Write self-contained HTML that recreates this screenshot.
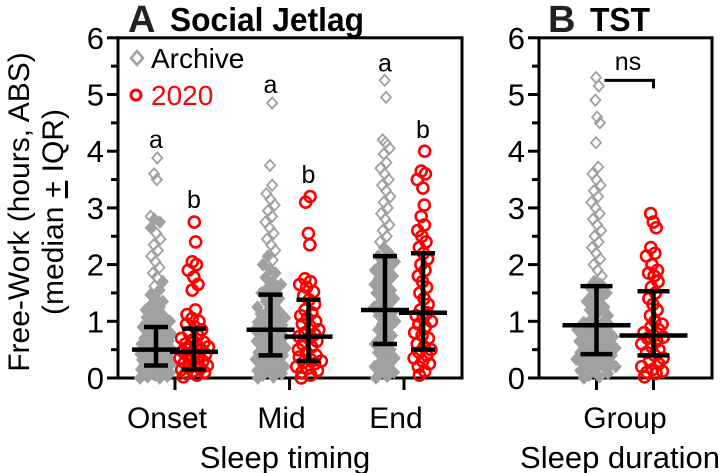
<!DOCTYPE html>
<html><head><meta charset="utf-8"><style>
html,body{margin:0;padding:0;background:#fff;}
svg{display:block;font-family:"Liberation Sans",Arial,sans-serif;}
</style></head><body>
<svg id="chart" width="725" height="473" viewBox="0 0 725 473">
<g id="axes"></g><g id="marks"></g><g id="stats"></g>
</svg>
<script>
// ---- data ----
const groupsA = ["Onset","Mid","End"];
const groupsB = ["Group"];
const yTicks = [0,1,2,3,4,5,6];
const archOnset = [0,0,0.02,0.03,0.05,0.05,0.07,0.08,0.1,0.1,0.12,0.13,0.15,0.15,0.17,0.18,0.2,0.2,0.22,0.23,0.25,0.25,0.27,0.28,0.3,0.3,0.32,0.33,0.35,0.35,0.37,0.38,0.4,0.4,0.42,0.43,0.45,0.45,0.47,0.48,0.5,0.5,0.52,0.53,0.55,0.57,0.58,0.6,0.62,0.63,0.65,0.67,0.7,0.72,0.75,0.77,0.8,0.83,0.85,0.88,0.9,0.93,0.95,1.0,1.03,1.07,1.1,1.15,1.2,1.25,1.3,1.35,1.4,1.47,1.55,1.62,1.7,1.78,1.85,1.95,2.05,2.15,2.25,2.35,2.45,2.55,2.65,2.75,2.8,2.85,3.5,3.6,3.88];
const newOnset = [0.02,0.05,0.08,0.1,0.12,0.15,0.17,0.2,0.22,0.25,0.27,0.3,0.32,0.35,0.37,0.4,0.42,0.45,0.47,0.5,0.52,0.55,0.58,0.6,0.63,0.67,0.7,0.75,0.8,0.85,0.9,0.95,1.0,1.05,1.12,1.2,1.55,1.65,1.78,1.9,2.0,2.05,2.4,2.75];
const archMid = [0,0.02,0.05,0.08,0.1,0.13,0.15,0.18,0.2,0.23,0.25,0.28,0.3,0.33,0.35,0.38,0.4,0.43,0.45,0.48,0.5,0.53,0.55,0.58,0.6,0.63,0.65,0.68,0.7,0.73,0.75,0.78,0.8,0.83,0.85,0.88,0.9,0.93,0.95,0.98,1.0,1.03,1.06,1.1,1.13,1.17,1.2,1.25,1.3,1.35,1.4,1.45,1.5,1.55,1.6,1.65,1.7,1.77,1.85,1.92,2.0,2.08,2.15,2.25,2.35,2.45,2.55,2.65,2.75,2.85,2.95,3.05,3.15,3.25,3.4,3.75,4.85];
const newMid = [0,0.05,0.1,0.13,0.17,0.2,0.25,0.28,0.3,0.33,0.37,0.4,0.45,0.5,0.55,0.6,0.65,0.7,0.73,0.77,0.8,0.85,0.9,0.95,1.0,1.05,1.1,1.15,1.2,1.3,1.38,1.45,1.52,1.6,1.65,1.7,1.75,2.35,2.55,3.1,3.2];
const archEnd = [0,0.03,0.07,0.1,0.15,0.2,0.25,0.3,0.35,0.4,0.45,0.5,0.55,0.6,0.65,0.7,0.75,0.8,0.85,0.9,0.95,1.0,1.05,1.1,1.15,1.2,1.25,1.3,1.35,1.4,1.45,1.5,1.55,1.6,1.65,1.7,1.75,1.8,1.85,1.9,1.95,2.0,2.05,2.1,2.15,2.2,2.3,2.4,2.5,2.6,2.7,2.8,2.9,3.0,3.1,3.2,3.3,3.4,3.5,3.6,3.7,3.8,3.95,4.05,4.15,4.2,4.95,5.25];
const newEnd = [0.05,0.12,0.2,0.25,0.3,0.35,0.4,0.45,0.5,0.55,0.6,0.7,0.75,0.8,0.9,0.95,1.0,1.05,1.1,1.15,1.2,1.3,1.4,1.5,1.6,1.7,1.8,1.9,2.0,2.1,2.2,2.3,2.4,2.5,2.6,2.7,2.85,3.05,3.35,3.5,3.6,3.65,4.0];
const archTST = [0,0.02,0.05,0.08,0.1,0.13,0.15,0.18,0.2,0.23,0.25,0.28,0.3,0.33,0.35,0.38,0.4,0.43,0.45,0.48,0.5,0.53,0.55,0.58,0.6,0.63,0.65,0.68,0.7,0.73,0.75,0.78,0.8,0.83,0.85,0.88,0.9,0.93,0.95,0.98,1.0,1.05,1.1,1.15,1.2,1.25,1.3,1.35,1.4,1.45,1.5,1.55,1.6,1.65,1.7,1.8,1.9,2.0,2.1,2.2,2.3,2.4,2.5,2.6,2.7,2.8,2.9,3.0,3.1,3.2,3.3,3.4,3.5,3.6,3.72,4.15,4.5,4.6,4.9,5.15,5.3];
const newTST = [0.02,0.08,0.1,0.12,0.15,0.2,0.25,0.3,0.35,0.4,0.45,0.5,0.55,0.6,0.65,0.7,0.72,0.75,0.8,0.85,0.9,0.95,1.0,1.1,1.2,1.3,1.4,1.5,1.6,1.7,1.8,1.85,1.9,2.0,2.15,2.2,2.3,2.65,2.75,2.9];
// median, q1, q3
const archStats = [[0.5,0.22,0.9],[0.85,0.4,1.47],[1.2,0.6,2.15],[0.93,0.42,1.62]];
const newStats = [[0.46,0.15,0.87],[0.73,0.3,1.38],[1.15,0.5,2.2],[0.75,0.4,1.53]];
const letters = [["a",4.2,"b",3.14],["a",5.17,"b",3.58],["a",5.55,"b",4.37]];

// ---- scales ----
const NS="http://www.w3.org/2000/svg";
const y0=378, yUnit=56.7;
const yS = v => y0 - v*yUnit;
const xA = i => 175 + i*114.5;
const xB = i => 625 + i*57;
function mk(tag, attrs, parent, text){
  const e=document.createElementNS(NS,tag);
  for(const k in attrs) e.setAttribute(k,attrs[k]);
  if(text!==undefined) e.textContent=text;
  parent.appendChild(e); return e;
}
const axes=document.getElementById('axes'), marks=document.getElementById('marks'), stats=document.getElementById('stats');

function drawPanel(left,right,name){
  const g=mk('g',{},axes);
  
  
  mk('rect',{x:left,y:yS(6),width:right-left,height:y0-yS(6),fill:'none',stroke:'#000','stroke-width':3},g);
  yTicks.forEach(t=>{
    mk('line',{x1:left-11,x2:left,y1:yS(t),y2:yS(t),stroke:'#000','stroke-width':3},g);
    if(t<6) mk('line',{x1:left-7,x2:left,y1:yS(t+0.5),y2:yS(t+0.5),stroke:'#000','stroke-width':3},g);
    const tx=mk('text',{x:left-14,y:yS(t)+11,'text-anchor':'end','font-size':31},g,String(t));
    
    
  });
}
drawPanel(118,462,'panel-a');
drawPanel(539,712,'panel-b');

function swarm(vals, cx, maxHW, kind){
  const sorted=vals.slice().sort((a,b)=>a-b);
  sorted.forEach((v,i)=>{
    let n=0; sorted.forEach(w=>{ if(Math.abs(w-v)<=0.15) n++; });
    const hw=Math.min(maxHW, 1.8*n);
    const off=(((i*0.618034)%1)*2-1)*hw;
    const x=cx+off, y=yS(v);
    let el;
    if(kind==='arch'){
      el=mk('path',{d:`M${x} ${y-5.5}L${x+5} ${y}L${x} ${y+5.5}L${x-5} ${y}Z`,fill:n>=4?'#a0a0a0':'none',stroke:'#a0a0a0','stroke-width':1.8},marks);
      
    } else {
      el=mk('circle',{cx:x,cy:y,r:5.5,fill:'none',stroke:'#f00','stroke-width':2.6},marks);
      
    }
    
  });
}
function errbar(st, cx, medHW, capHW){
  const g=mk('g',{},stats);
  
  
  const [m,q1,q3]=st;
  mk('line',{x1:cx,x2:cx,y1:yS(q1),y2:yS(q3),stroke:'#000','stroke-width':4.5},g);
  mk('line',{x1:cx-capHW,x2:cx+capHW,y1:yS(q1),y2:yS(q1),stroke:'#000','stroke-width':4.5},g);
  mk('line',{x1:cx-capHW,x2:cx+capHW,y1:yS(q3),y2:yS(q3),stroke:'#000','stroke-width':4.5},g);
  mk('line',{x1:cx-medHW,x2:cx+medHW,y1:yS(m),y2:yS(m),stroke:'#000','stroke-width':4.5},g);
}
const arch=[archOnset,archMid,archEnd], nw=[newOnset,newMid,newEnd];
groupsA.forEach((c,i)=>{
  const ca=xA(i)-19, cn=xA(i)+19;
  swarm(arch[i],ca,16,'arch');
  swarm(nw[i],cn,15,'new');
  errbar(archStats[i],ca,24,12);
  errbar(newStats[i],cn,24,12);
  const t1=mk('text',{x:ca,y:yS(letters[i][1])+8,'text-anchor':'middle','font-size':25},stats,letters[i][0]);
  
  
  const t2=mk('text',{x:cn,y:yS(letters[i][3])+8,'text-anchor':'middle','font-size':25},stats,letters[i][2]);
  
  
  mk('line',{x1:xA(i),x2:xA(i),y1:y0,y2:y0+12,stroke:'#000','stroke-width':3},axes);
  const lb=mk('text',{x:xA(i)-8,y:428,'text-anchor':'middle','font-size':30},axes,c);
  
  
});
// panel B
swarm(archTST,xB(-0.5),26,'arch');
swarm(newTST,xB(0.5),25,'new');
errbar(archStats[3],xB(-0.5),34,16);
errbar(newStats[3],xB(0.5),34,16);
[-0.5,0.5].forEach(k=>mk('line',{x1:xB(k),x2:xB(k),y1:y0,y2:y0+12,stroke:'#000','stroke-width':3},axes));
const gl=mk('text',{x:xB(0),y:428,'text-anchor':'middle','font-size':30},axes,groupsB[0]);


const br=mk('path',{d:`M${xB(-0.5)+8} ${yS(5.25)}H${xB(0.5)}V${yS(5.25)+8}`,fill:'none',stroke:'#000','stroke-width':3},stats);


</script>
<svg width="725" height="473" style="position:absolute;left:0;top:0">
  <text x="128" y="32" font-size="38" font-weight="bold" fill="#222">A</text>
  <text x="170" y="31" font-size="33" font-weight="bold" textLength="194" lengthAdjust="spacingAndGlyphs">Social Jetlag</text>
  <text x="548" y="32" font-size="38" font-weight="bold" fill="#222">B</text>
  <text x="590" y="31" font-size="33" font-weight="bold" textLength="60" lengthAdjust="spacingAndGlyphs">TST</text>
  <text transform="translate(29,212) rotate(-90)" text-anchor="middle" font-size="30">Free-Work (hours, ABS)</text>
  <text transform="translate(63,212) rotate(-90)" text-anchor="middle" font-size="30">(median <tspan text-decoration="underline">+</tspan> IQR)</text>
  <text x="285" y="468" text-anchor="middle" font-size="31">Sleep timing</text>
  <text x="620" y="468" text-anchor="middle" font-size="31">Sleep duration</text>
  <path d="M137 51L143 58L137 65L131 58Z" fill="none" stroke="#a0a0a0" stroke-width="2.5"/>
  <text x="151" y="68" font-size="28">Archive</text>
  <circle cx="136" cy="95" r="5" fill="none" stroke="#f00" stroke-width="3"/>
  <text x="151" y="105" font-size="28" fill="#f00">2020</text>
  <text x="628" y="70" text-anchor="middle" font-size="25">ns</text>
</svg>
</body></html>
